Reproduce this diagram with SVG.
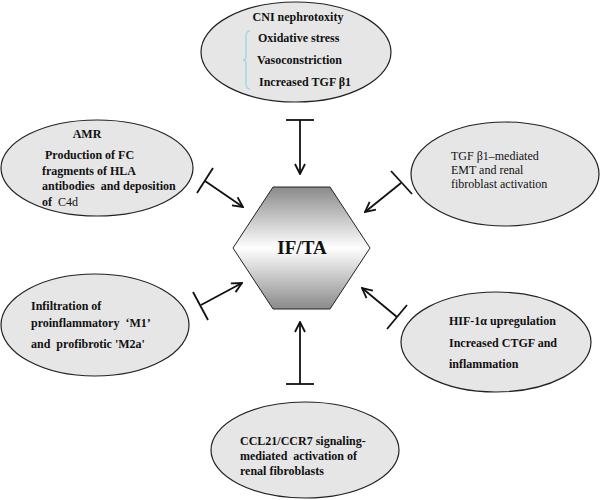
<svg xmlns="http://www.w3.org/2000/svg" width="600" height="500" viewBox="0 0 600 500">
<style>
.el{fill:#e6e6e6;stroke:#222;stroke-width:1.2}
.t{font-family:"Liberation Serif","Times New Roman",serif;font-size:12px;fill:#111}
.b{font-weight:bold}
.ln{stroke:#111;stroke-width:1.8;fill:none}
</style>
<defs>
<linearGradient id="hg" x1="0" y1="0" x2="0" y2="1">
<stop offset="0" stop-color="#8a8a8a"/>
<stop offset="0.5" stop-color="#ffffff"/>
<stop offset="1" stop-color="#8a8a8a"/>
</linearGradient>
<marker id="ah" viewBox="0 0 12 12" refX="11" refY="6" markerWidth="12" markerHeight="12" markerUnits="userSpaceOnUse" orient="auto">
<polyline points="1,1 11,6 1,11" fill="none" stroke="#111" stroke-width="1.8"/>
</marker>
</defs>
<g id="hub">
<polygon points="273,187 330,187 370,248 330,309 273,309 233,248" fill="url(#hg)" stroke="#222" stroke-width="1"/>
<text class="t b" x="302" y="254" text-anchor="middle" style="font-size:19px">IF/TA</text>
</g>
<g id="cni">
<ellipse class="el" cx="296" cy="52" rx="95" ry="50"/>
<text class="t b" x="298" y="21" text-anchor="middle">CNI nephrotoxity</text>
<path d="M250,31 Q246,31 246,36 L246,56 Q246,60 243,60 Q246,60 246,64 L246,84 Q246,89 250,89" fill="none" stroke="#9ed8e0" stroke-width="1.4"/>
<text class="t b" x="258" y="42">Oxidative stress</text>
<text class="t b" x="257" y="64">Vasoconstriction</text>
<text class="t b" x="259" y="86">Increased TGF β1</text>
</g>
<g id="amr">
<ellipse class="el" cx="97" cy="168" rx="96" ry="48"/>
<text class="t b" x="87" y="138" text-anchor="middle">AMR</text>
<text class="t b" x="45" y="159">Production of FC</text>
<text class="t b" x="42" y="175">fragments of HLA</text>
<text class="t b" x="42" y="190" xml:space="preserve">antibodies  and deposition</text>
<text class="t" x="42" y="206" xml:space="preserve"><tspan class="b">of</tspan>  C4d</text>
</g>
<g id="tgf">
<ellipse class="el" cx="505" cy="174" rx="94" ry="52"/>
<text class="t" x="451" y="160">TGF β1–mediated</text>
<text class="t" x="451" y="174">EMT and renal</text>
<text class="t" x="451" y="188">fibroblast activation</text>
</g>
<g id="infil">
<ellipse class="el" cx="95" cy="325" rx="94" ry="51"/>
<text class="t b" x="31" y="310">Infiltration of</text>
<text class="t b" x="31" y="327" xml:space="preserve">proinflammatory  ‘M1’</text>
<text class="t b" x="31" y="348" xml:space="preserve">and  profibrotic 'M2a'</text>
</g>
<g id="hif">
<ellipse class="el" cx="496" cy="342" rx="95" ry="50"/>
<text class="t b" x="449" y="325">HIF-1α upregulation</text>
<text class="t b" x="449" y="347">Increased CTGF and</text>
<text class="t b" x="449" y="368">inflammation</text>
</g>
<g id="ccl">
<ellipse class="el" cx="305" cy="450" rx="94" ry="48"/>
<text class="t b" x="240" y="445">CCL21/CCR7 signaling-</text>
<text class="t b" x="240" y="460" xml:space="preserve">mediated  activation of</text>
<text class="t b" x="240" y="475">renal fibroblasts</text>
</g>
<g id="connectors">
<line class="ln" x1="286" y1="120" x2="314" y2="120"/>
<line class="ln" x1="300" y1="120" x2="300" y2="174" marker-end="url(#ah)"/>
<line class="ln" x1="213" y1="168" x2="197" y2="193"/>
<line class="ln" x1="205" y1="181" x2="243" y2="207" marker-end="url(#ah)"/>
<line class="ln" x1="391" y1="171" x2="412" y2="194"/>
<line class="ln" x1="401" y1="183" x2="365" y2="212" marker-end="url(#ah)"/>
<line class="ln" x1="193" y1="292" x2="208" y2="320"/>
<line class="ln" x1="201" y1="305" x2="242" y2="283" marker-end="url(#ah)"/>
<line class="ln" x1="407" y1="305" x2="387" y2="329"/>
<line class="ln" x1="397" y1="317" x2="362" y2="288" marker-end="url(#ah)"/>
<line class="ln" x1="286" y1="384" x2="314" y2="384"/>
<line class="ln" x1="300" y1="384" x2="300" y2="322" marker-end="url(#ah)"/>
</g>
</svg>
